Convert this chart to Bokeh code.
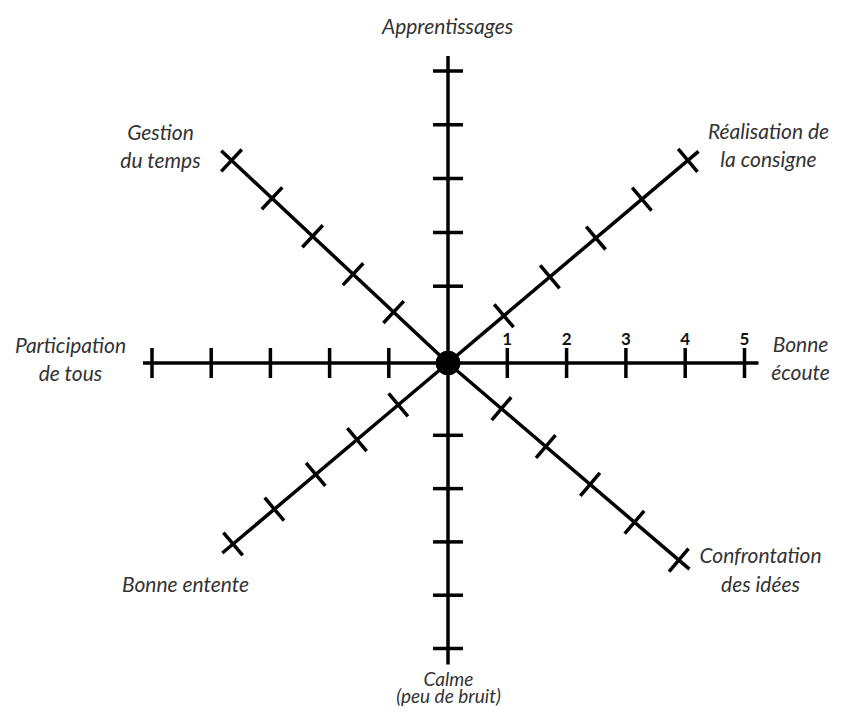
import math
from bokeh.plotting import figure
from bokeh.models import Range1d
from bokeh.core.properties import value
from bokeh.embed import file_html
from bokeh.resources import INLINE

# ---- data ----
axis_names = ["Bonne écoute", "Réalisation de la consigne", "Apprentissages",
              "Gestion du temps", "Participation de tous", "Bonne entente",
              "Calme (peu de bruit)", "Confrontation des idées"]
axis_angles = [0, 40.2, 90, 136.9, 180, 220.1, 270, 319.5]   # degrees
tick_values = [1, 2, 3, 4, 5]
tick_labels = ["1", "2", "3", "4", "5"]

# label lines per axis
label_lines = [["Bonne", "écoute"], ["Réalisation de", "la consigne"], ["Apprentissages"],
               ["Gestion", "du temps"], ["Participation", "de tous"], ["Bonne entente"],
               ["Calme", "(peu de bruit)"], ["Confrontation", "des idées"]]

# ---- layout (pixel-like scale) ----
cx, cy = 447.5, 362.5
steps = [59.3, 60.2, 53.8, 55.5, 59.2, 54.0, 53.3, 58.3]
offsets = [0, 13, 23, 19, 0, 11, 19, 12]
extend = [14, 14, 15, 14, 9, 14, 16, 14]
label_pos = [(800, 343, 371), (768, 130, 158), (447, 25, None), (160, 131, 159),
             (70, 344, 372), (185, 583, None), (448, 678, 695), (760, 554, 583)]
label_sizes = ["21px", "21px", "21px", "21px", "21px", "21px", "19px", "21px"]
tick_half = 15

W, H = 837, 706
p = figure(width=W, height=H, output_backend="svg", toolbar_location=None,
           x_range=Range1d(0, W), y_range=Range1d(H, 0),
           min_border=0)
p.axis.visible = False
p.grid.visible = False
p.outline_line_color = None
p.background_fill_color = "white"

ax0, ay0, ax1, ay1 = [], [], [], []
tx0, ty0, tx1, ty1 = [], [], [], []
for ang, st, off, ex in zip(axis_angles, steps, offsets, extend):
    a = math.radians(ang)
    dx, dy = math.cos(a), -math.sin(a)
    rmax = off + st * tick_values[-1] + ex
    ax0.append(cx); ay0.append(cy)
    ax1.append(cx + dx * rmax); ay1.append(cy + dy * rmax)
    px, py = -dy, dx
    for v in tick_values:
        r = off + st * v
        x, y = cx + dx * r, cy + dy * r
        tx0.append(x - px * tick_half); ty0.append(y - py * tick_half)
        tx1.append(x + px * tick_half); ty1.append(y + py * tick_half)

p.segment(ax0, ay0, ax1, ay1, line_width=3.5, line_color="black")
p.segment(tx0, ty0, tx1, ty1, line_width=3.5, line_color="black")
p.scatter([cx], [cy], size=24, marker="circle", fill_color="black", line_color="black")

# numbers on "Bonne écoute" axis
nx = [cx + offsets[0] + steps[0] * v for v in tick_values]
ny = [338] * len(tick_values)
p.text(nx, ny, text=tick_labels, text_font=value("Lato"), text_font_style="bold",
       text_font_size="17px", text_align="center", text_baseline="middle",
       text_color="#111111")

for lines, (x, y1, y2), fs in zip(label_lines, label_pos, label_sizes):
    xs, ys = [x], [y1]
    if len(lines) > 1:
        xs.append(x); ys.append(y2)
    p.text(xs, ys, text=lines, text_font=value("Lato"), text_font_style="italic",
           text_font_size=fs, text_align="center", text_baseline="middle",
           text_color="#333333")

open("out.html", "w").write(file_html(p, INLINE))
